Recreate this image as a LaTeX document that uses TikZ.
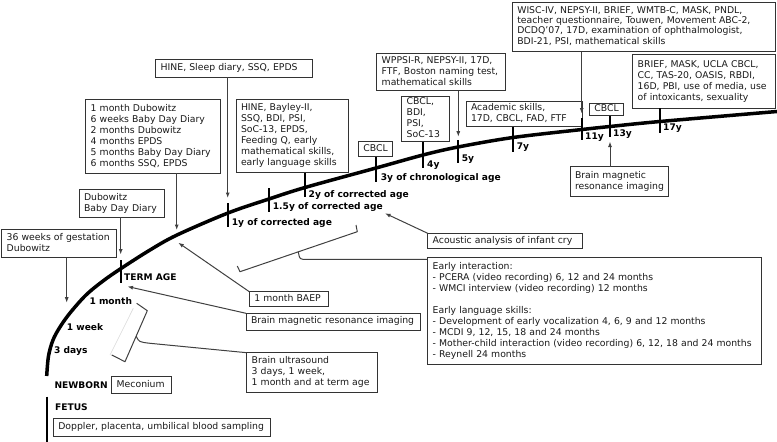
\documentclass[tikz,border=0pt]{standalone}
\usepackage{fontspec}
\setmainfont{DejaVu Sans}
\usetikzlibrary{arrows.meta}
\definecolor{ln}{HTML}{333333}
\definecolor{tx}{HTML}{1A1A1A}
\definecolor{ar}{HTML}{404040}
\tikzset{
 bx/.style={draw=ln, line width=0.9pt, inner xsep=5pt, inner ysep=0pt, outer sep=0pt,
   anchor=north west, align=left, text=tx, font=\fontsize{9.3}{11}\selectfont},
 lbl/.style={anchor=west, inner sep=0pt, text=black, font=\fontsize{9.1}{11}\selectfont\bfseries},
 arr/.style={draw=ar, line width=1pt, -{Latex[length=5.5pt,width=4pt]}},
 con/.style={draw=ar, line width=1pt, line join=round},
 tickln/.style={draw=black, line width=1.8pt},
}
\newcommand\boxat[7][]{%
 \pgfmathsetmacro\bxw{#5-#3-10}%
 \node[bx, text width=\bxw pt, minimum height={#6pt-#4pt}, #1] (#2) at (#3,#4)
   {\begin{tabular}{@{}l@{}}#7\end{tabular}};}
\begin{document}
\begin{tikzpicture}[x=1pt,y=-1pt]
\useasboundingbox[fill=white] (0,0) rectangle (777,442);

% main time curve
\draw[line width=3.5pt] plot[smooth, tension=0.55] coordinates {
 (46.7,376) (48.5,356) (53,340) (60,327) (70,313) (86,295) (103,281) (121,268.5)
 (150,250) (177,235) (228,213) (269,199) (305,187.5) (376,168) (423,155)
 (458,147) (513,137.5) (582,129.5) (610,126.5) (660,121.5) (777,111.5)};
% fetus line
\draw[line width=1.8pt] (46.7,396.5) -- (46.7,442);

% boxes
\boxat{sleep}{155.7}{59.3}{312}{77.3}{HINE, Sleep diary, SSQ, EPDS}
\boxat{month}{85.7}{99.3}{220.7}{173.3}{1 month Dubowitz\\6 weeks Baby Day Diary\\2 months Dubowitz\\4 months EPDS\\5 months Baby Day Diary\\6 months SSQ, EPDS}
\boxat{hinetwo}{236}{99.3}{348.7}{172.7}{HINE, Bayley-II,\\SSQ, BDI, PSI,\\SoC-13, EPDS,\\Feeding Q, early\\mathematical skills,\\early language skills}
\boxat{cbclthree}{358.3}{141.7}{392.7}{156.7}{CBCL}
\boxat{cbclfour}{401.7}{96.7}{449}{141.7}{CBCL,\\BDI,\\PSI,\\SoC-13}
\boxat{wppsi}{376.7}{53.3}{505.7}{90.7}{WPPSI-R, NEPSY-II, 17D,\\FTF, Boston naming test,\\mathematical skills}
\boxat{acad}{466}{101.7}{582.3}{126.7}{Academic skills,\\17D, CBCL, FAD, FTF}
\boxat[font=\fontsize{9.3}{10.2}\selectfont]{wisc}{512.3}{2}{775.5}{51.7}{WISC-IV, NEPSY-II, BRIEF, WMTB-C, MASK, PNDL,\\teacher questionnaire, Touwen, Movement ABC-2,\\DCDQ’07, 17D, examination of ophthalmologist,\\BDI-21, PSI, mathematical skills}
\boxat{cbclthirteen}{589.3}{103.3}{623.3}{115.5}{CBCL}
\boxat{brief}{632.7}{54.3}{775.5}{108.3}{BRIEF, MASK, UCLA CBCL,\\CC, TAS-20, OASIS, RBDI,\\16D, PBI, use of media, use\\of intoxicants, sexuality}
\boxat{mrithirteen}{570}{166.7}{668.3}{196.7}{Brain magnetic\\resonance imaging}
\boxat{dubbdd}{79}{189.3}{164}{217.3}{Dubowitz\\Baby Day Diary}
\boxat{weeks}{1.7}{229.3}{116.7}{257.7}{36 weeks of gestation\\Dubowitz}
\boxat{acoustic}{427.7}{233.3}{582.3}{248.3}{Acoustic analysis of infant cry}
\boxat{early}{427.7}{257.7}{761.7}{364.3}{Early interaction:\\- PCERA (video recording) 6, 12 and 24 months\\- WMCI interview (video recording) 12 months\\ \\Early language skills:\\- Development of early vocalization 4, 6, 9 and 12 months\\- MCDI 9, 12, 15, 18 and 24 months\\- Mother-child interaction (video recording) 6, 12, 18 and 24 months\\- Reynell 24 months}
\boxat{baep}{249.3}{291.7}{328.3}{306}{1 month BAEP}
\boxat{mri}{246}{313.3}{420}{330}{Brain magnetic resonance imaging}
\boxat{us}{246.7}{352.7}{377.3}{392.3}{Brain ultrasound\\3 days, 1 week,\\1 month and at term age}
\boxat{meconium}{111.7}{376.7}{171.7}{393.3}{Meconium}
\boxat{doppler}{53.3}{418.3}{270.7}{436.7}{Doppler, placenta, umbilical blood sampling}

% labels
\node[lbl] (lterm) at (124,277.3) {TERM AGE};
\node[lbl] (lmonth) at (89.3,300.7) {1 month};
\node[lbl] (lweek) at (66.7,326.7) {1 week};
\node[lbl] (ldays) at (54,350.7) {3 days};
\node[lbl] (lnewborn) at (54.3,385) {NEWBORN};
\node[lbl] (lfetus) at (55,406.7) {FETUS};
\node[lbl] (lone) at (231.7,222.7) {1y of corrected age};
\node[lbl] (lonehalf) at (272.7,207.2) {1.5y of corrected age};
\node[lbl] (ltwo) at (308.5,195) {2y of corrected age};
\node[lbl] (lthree) at (380.7,178.3) {3y of chronological age};
\node[lbl] (lfour) at (427,165) {4y};
\node[lbl] (lfive) at (461.7,159) {5y};
\node[lbl] (lseven) at (516.7,146.7) {7y};
\node[lbl] (leleven) at (585,136.7) {11y};
\node[lbl] (lthirteen) at (613,134.3) {13y};
\node[lbl] (lseventeen) at (663,127.7) {17y};

% tick end coordinates
\coordinate (tterma) at (120.7,260); \coordinate (ttermb) at (120.7,283.3);
\coordinate (tonea) at (227.7,203); \coordinate (toneb) at (227.7,227);
\coordinate (thalfa) at (269,188); \coordinate (thalfb) at (269,211.7);
\coordinate (ttwo) at (305,196.7);
\coordinate (tthree) at (376,181.7);
\coordinate (tfour) at (423.3,168);
\coordinate (tfivea) at (458.3,140); \coordinate (tfiveb) at (458.3,163);
\coordinate (tseven) at (512.7,151.7);
\coordinate (televena) at (581.7,118); \coordinate (televenb) at (581.7,140);
\coordinate (tthirteen) at (610,137);
\coordinate (tseventeen) at (660,132.7);

\draw[tickln] (tterma) -- (ttermb);
\draw[tickln] (tonea) -- (toneb);
\draw[tickln] (thalfa) -- (thalfb);
\draw[tickln] (hinetwo.south -| ttwo) -- (ttwo);
\draw[tickln] (cbclthree.south -| tthree) -- (tthree);
\draw[tickln] (cbclfour.south -| tfour) -- (tfour);
\draw[tickln] (tfivea) -- (tfiveb);
\draw[tickln] (acad.south -| tseven) -- (tseven);
\draw[tickln] (televena) -- (televenb);
\draw[tickln] (cbclthirteen.south -| tthirteen) -- (tthirteen);
\draw[tickln] (brief.south -| tseventeen) -- (tseventeen);

% arrow end coordinates
\coordinate (asleep) at (227.7,198);
\coordinate (amonth) at (176.7,230);
\coordinate (adub) at (120.7,254.5);
\coordinate (aweeks) at (66.7,302.7);
\coordinate (awppsi) at (458.3,136.7);
\coordinate (awisc) at (581.7,113.5);
\coordinate (amrith) at (610,141.5);
\coordinate (aacou) at (385,213.3);
\coordinate (abaep) at (178.3,242.7);
\coordinate (amri) at (127.5,286.5);

\draw[arr] (sleep.south -| asleep) -- (asleep);
\draw[arr] (month.south -| amonth) -- (amonth);
\draw[arr] (dubbdd.south -| adub) -- (adub);
\draw[arr] (weeks.south -| aweeks) -- (aweeks);
\draw[arr] (wppsi.south -| awppsi) -- (awppsi);
\draw[arr] (wisc.south -| awisc) -- (awisc);
\draw[arr] (mrithirteen.north -| amrith) -- (amrith);
\draw[arr] (acoustic.north west) -- (aacou);
\draw[arr] (baep.north west) -- (abaep);
\draw[arr] (mri.north west) -- (amri);

% bracket 1 (early days -> ultrasound)
\coordinate (bat) at (136.7,303.3); \coordinate (bbt) at (147.3,310.7);
\coordinate (bcb) at (125,361.7); \coordinate (bdb) at (111.7,355);
\coordinate (bmid) at (136.2,336.2);
\draw[gray!30, line width=0.6pt] (133.3,308.3) -- (110,355);
\draw[con] (bat) -- (bbt) -- (bcb) -- (bdb);
\draw[con] (bmid) .. controls (139,342) .. (150,343.3) -- (us.north west);

% bracket 2 (first years -> early interaction)
\coordinate (cat) at (356,225); \coordinate (cbt) at (357.3,231.7);
\coordinate (ccb) at (240,271.7); \coordinate (cdb) at (237.3,266);
\coordinate (cmid) at (298.3,251.8);
\draw[con] (cat) -- (cbt) -- (ccb) -- (cdb);
\draw[con] (cmid) .. controls (299.5,258.5) .. (303,259.3) -- ([yshift=-1.6pt]early.north west);
\end{tikzpicture}
\end{document}
